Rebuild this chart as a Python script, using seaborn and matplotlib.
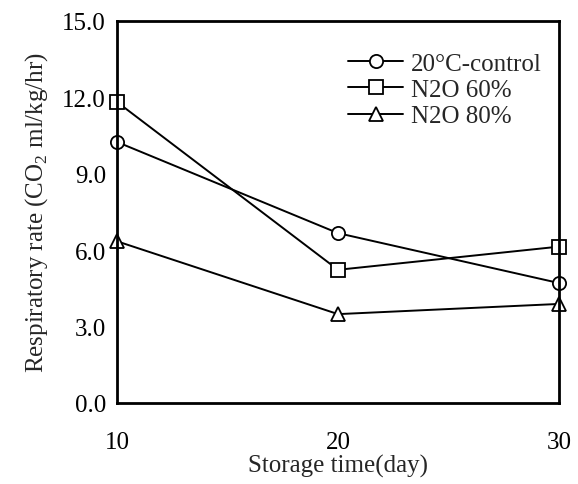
import matplotlib
matplotlib.use("Agg")
import matplotlib.pyplot as plt
import seaborn as sns
import pandas as pd
from matplotlib.lines import Line2D

days = [10, 20, 30]
control_20c = [10.25, 6.67, 4.71]
n2o_60 = [11.82, 5.23, 6.14]
n2o_80 = [6.35, 3.49, 3.89]
series_names = ["20°C-control", "N2O 60%", "N2O 80%"]
y_ticks = [0.0, 3.0, 6.0, 9.0, 12.0, 15.0]

df = pd.DataFrame({
    "day": days * 3,
    "rate": control_20c + n2o_60 + n2o_80,
    "treatment": [n for n in series_names for _ in days],
})

sns.set_style("white")
plt.rcParams["font.family"] = ["Liberation Serif", "DejaVu Serif"]
plt.rcParams["mathtext.fontset"] = "custom"
plt.rcParams["mathtext.rm"] = "Liberation Serif"

fig = plt.figure(figsize=(5.78, 4.85), dpi=100)
ax = fig.add_axes([117 / 578, 1 - 404 / 485, (559 - 117) / 578, (404 - 22) / 485])

sns.lineplot(
    data=df, x="day", y="rate", style="treatment", hue="treatment",
    palette=["black"] * 3, markers={"20°C-control": "o", "N2O 60%": "s", "N2O 80%": "^"},
    dashes=False, markersize=9.5, markerfacecolor="white", markeredgecolor="black",
    markeredgewidth=1.3, linewidth=1.4, ax=ax, clip_on=False, legend=False,
)

ax.set_xlim(10, 30)
ax.set_ylim(0, 15)
ax.set_xticks(days)
ax.set_yticks(y_ticks)
ax.set_yticklabels([f"{v:.1f}" for v in y_ticks])
ax.tick_params(axis="both", direction="in", length=6, width=1.2, color="#777777",
               labelsize=18, labelcolor="black")
ax.tick_params(axis="x", pad=20)
ax.tick_params(axis="y", pad=8)
for s in ax.spines.values():
    s.set_color("black")
    s.set_linewidth(2)

ax.set_xlabel("Storage time(day)", fontsize=18, labelpad=1)
ax.set_ylabel(r"Respiratory rate (CO$_\mathrm{2}$ ml/kg/hr)", fontsize=18, labelpad=9)

handles = [
    Line2D([], [], color="black", lw=1.4, marker=m, markersize=9.5,
           markerfacecolor="white", markeredgecolor="black", markeredgewidth=1.3)
    for m in ["o", "s", "^"]
]
ax.legend(handles, series_names, loc="upper right", bbox_to_anchor=(1.0, 0.964),
          frameon=False, fontsize=18, handlelength=2.2, handletextpad=0.3,
          labelspacing=0.15, borderpad=0.2)

fig.savefig("out.png", dpi=100)
